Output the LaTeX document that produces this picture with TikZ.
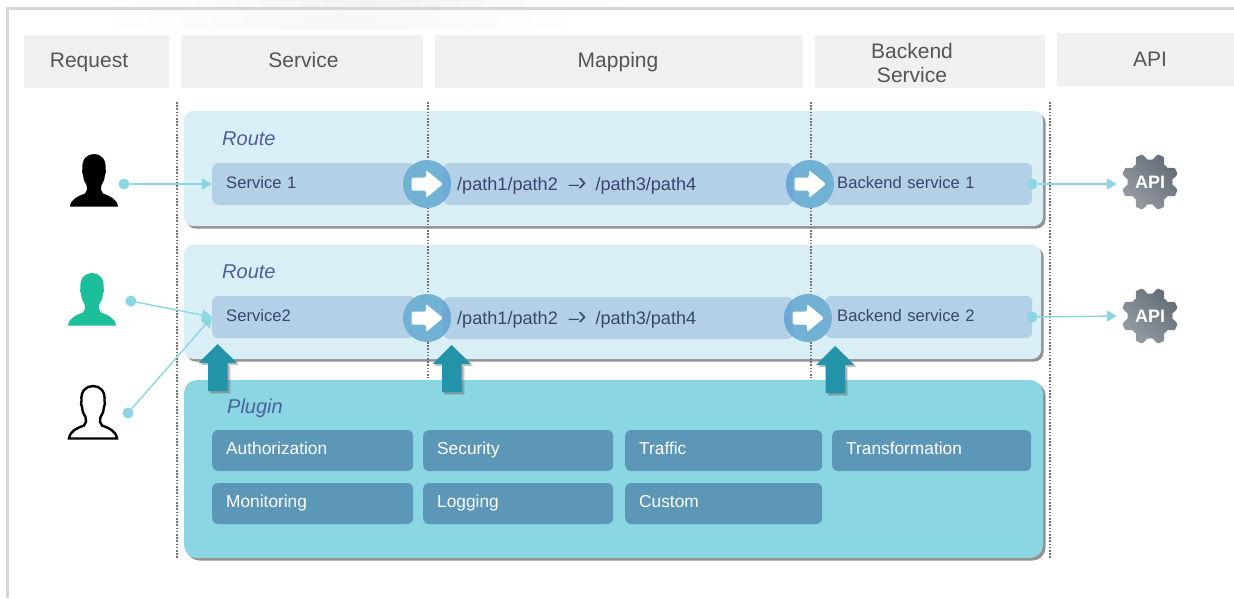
\documentclass[tikz,border=0pt]{standalone}
\usepackage{fontspec}
\setmainfont{Liberation Sans}
\usetikzlibrary{arrows.meta,shadows}
\definecolor{hdrfill}{HTML}{F0F0F0}
\definecolor{hdrtext}{HTML}{555555}
\definecolor{routefill}{HTML}{D9EFF5}
\definecolor{barfill}{HTML}{B4D0E7}
\definecolor{plugfill}{HTML}{8AD6E3}
\definecolor{plugbox}{HTML}{5C97B8}
\definecolor{circfill}{HTML}{70B1D4}
\definecolor{overlap}{HTML}{6FA8D6}
\definecolor{uparrow}{HTML}{2293A8}
\definecolor{titletext}{HTML}{4F5F9A}
\definecolor{bartext}{HTML}{3A466B}
\definecolor{conn}{HTML}{8AD6E3}
\definecolor{persongreen}{HTML}{1DBF9B}
\definecolor{gearlight}{HTML}{949BA3}
\definecolor{geardark}{HTML}{646E78}
\newcommand{\pathmap}{/path1/path2\hspace{11pt}–\hspace{-1pt}{\fontsize{26}{20}\selectfont ›}\hspace{9pt}/path3/path4}
\tikzset{
  x=1pt,y=-1pt,
  softshadow/.style={drop shadow={shadow xshift=2.5pt,shadow yshift=-2.5pt,fill=black!65,opacity=.65}},
  hdr/.style={fill=hdrfill,minimum height=53pt,inner sep=0pt},
  hdrlabel/.style={text=hdrtext,font=\fontsize{21}{24}\selectfont,align=center,inner sep=0pt},
  hdrone/.style={hdrlabel,text height=15pt,text depth=5pt},
  panel/.style={rounded corners=9pt,minimum width=#1,inner sep=0pt,softshadow},
  paneltitle/.style={text=titletext,font=\fontsize{20}{22}\selectfont\itshape,anchor=west,inner sep=0pt},
  bar/.style={fill=barfill,rounded corners=6pt,minimum height=42pt,anchor=west,inner ysep=0pt,inner xsep=14pt,
     text width=#1,align=left,text=bartext,font=\fontsize{16.6}{20}\selectfont,text height=12pt,text depth=4pt},
  mapbar/.style={bar=#1,font=\fontsize{18.1}{20}\selectfont,text depth=0pt},
  plug/.style={fill=plugbox,rounded corners=6pt,minimum height=41pt,anchor=west,inner ysep=0pt,inner xsep=14pt,
     text width=#1,align=left,text=white,font=\fontsize{17.3}{20}\selectfont,text height=12pt,text depth=4pt},
  hub/.style={circle,fill=circfill,minimum size=48pt,inner sep=0pt},
  sep/.style={draw=black!55,line width=1.4pt,dash pattern=on 1.6pt off 1.6pt},
  dot/.style={circle,fill=conn,minimum size=11pt,inner sep=0pt},
  link/.style={draw=conn,line width=1.4pt,-{Triangle[length=10pt,width=11pt]}},
  apinode/.style={circle,minimum size=66pt,inner sep=0pt,text=white,font=\fontsize{18}{18}\selectfont\bfseries},
  pics/upar/.style={code={
    \fill[black!55,opacity=.18] (-6.5,22)--(13,22)--(13,50)--(-6.5,50)--cycle;
    \fill[uparrow,drop shadow={shadow xshift=2pt,shadow yshift=-2pt,fill=black!60,opacity=.4}]
      (0,0)--(19.5,19)--(10,19)--(10,47)--(-9.5,47)--(-9.5,19)--(-19,19)--cycle;}},
  pics/hubarrow/.style={code={
    \fill[white,rounded corners=1.5pt] (-15.5,-6.5)--(-1,-6.5)--(-1,-14)--(16,0)--(-1,14)--(-1,6.5)--(-15.5,6.5)--cycle;}},
  pics/person/.style={code={
    \path[#1] (-24,52.5) .. controls (-23,45) and (-16,42) .. (-9,39.5)
      .. controls (-6.5,37.5) and (-6.5,34) .. (-7.5,31)
      .. controls (-10,27) and (-11,24) .. (-11,21)
      .. controls (-12.5,19) and (-12,16) .. (-11.5,15)
      .. controls (-12.5,5) and (-7,0) .. (0,0)
      .. controls (7,0) and (12.5,5) .. (11.5,15)
      .. controls (12,16) and (12.5,19) .. (11,21)
      .. controls (11,24) and (10,27) .. (7.5,31)
      .. controls (6.5,34) and (6.5,37.5) .. (9,39.5)
      .. controls (16,42) and (23,45) .. (24,52.5) -- cycle;}},
  pics/gear/.style={code={
    \shade[left color=gearlight,right color=geardark,shading angle=135]
      plot[domain=0:360,samples=240,smooth] ({(25.5+3*max(-1,min(1,-1.6*cos(8*\x))))*cos(\x)},{(25.5+3*max(-1,min(1,-1.6*cos(8*\x))))*sin(\x)}) -- cycle;}}
}
\begin{document}
\begin{tikzpicture}
\useasboundingbox (0,0) rectangle (1234,598);
\fill[white] (0,0) rectangle (1234,598);
% frame
\shade[left color=white,right color=white,middle color=black!5] (100,0) rectangle (640,7);
\shade[left color=white,right color=white,middle color=black!3] (100,10) rectangle (580,29);
\draw[black!16,line width=3pt] (7,598) -- (7,8) -- (1234,8);
% headers
\node[hdr,minimum width=145pt] (hreq) at (96.5,61.5) {};
\node[hdr,minimum width=242pt] (hsvc) at (302,61.5) {};
\node[hdr,minimum width=368pt] (hmap) at (619,61.5) {};
\node[hdr,minimum width=230pt] (hbak) at (930,61.5) {};
\node[hdr,minimum width=177pt] (hapi) at (1145.5,59.5) {};
\node[hdrone] (treq) at (89,62) {Request};
\node[hdrone] (tsvc) at (303.5,62) {Service};
\node[hdrone] (tmap) at (618,62) {Mapping};
\node[hdrlabel] (tbak) at (912,63) {Backend\\Service};
\node[hdrone] (tapi) at (1150,61) {API};
% panels
\node[panel=859pt,minimum height=115pt,fill=routefill] (route1) at (613.5,168.5) {};
\node[panel=857pt,minimum height=114pt,fill=routefill] (route2) at (612.5,302) {};
% separators
\coordinate (s1a) at (177,102); \coordinate (s1b) at (177,558);
\coordinate (s2a) at (428,102); \coordinate (s2b) at (428,378);
\coordinate (s3a) at (811,102); \coordinate (s3b) at (811,378);
\coordinate (s4a) at (1050,102); \coordinate (s4b) at (1050,558);
\draw[sep] (s1a) -- (s1b);
\draw[sep] (s2a) -- (s2b);
\draw[sep] (s3a) -- (s3b);
\draw[sep] (s4a) -- (s4b);
\node[panel=859pt,minimum height=178pt,fill=plugfill,rounded corners=13pt] (plugin) at (613.5,469) {};
\node[paneltitle] (lr1) at (222,139) {Route};
\node[paneltitle] (lr2) at (222,272) {Route};
\node[paneltitle] (lpl) at (227,408) {Plugin};
% first row bars
\node[bar=175pt] (svc1) at (212,184) {Service 1};
\node[mapbar=322pt] (map1) at (443,184) {\pathmap};
\node[bar=179pt,inner xsep=12pt,text width=183pt] (bak1) at (825,184) {Backend service 1};
% second row bars
\node[bar=175pt] (svc2) at (212,317) {Service2};
\node[mapbar=322pt] (map2) at (443,318) {\pathmap};
\node[bar=179pt,inner xsep=12pt,text width=183pt] (bak2) at (825,317) {Backend service 2};
% hubs
\node[hub] (h1) at (427,184) {};
\node[hub] (h2) at (810,184) {};
\node[hub] (h3) at (427,318) {};
\node[hub] (h4) at (808,318) {};
\begin{scope}
\clip (h1) circle (24);
\fill[overlap] (443,163) rectangle (455,205);
\end{scope}
\begin{scope}
\clip (h3) circle (24);
\fill[overlap] (443,297) rectangle (455,339);
\end{scope}
\begin{scope}
\clip (h2) circle (24);
\fill[overlap] (780,163) rectangle (793,205);
\end{scope}
\begin{scope}
\clip (h4) circle (24);
\fill[overlap] (780,297) rectangle (793,339);
\end{scope}
\pic at (h1) {hubarrow};
\pic at (h2) {hubarrow};
\pic at (h3) {hubarrow};
\pic at (h4) {hubarrow};
% plugin boxes
\node[plug=173pt] (p1) at (212,450.5) {Authorization};
\node[plug=162pt] (p2) at (423,450.5) {Security};
\node[plug=169pt] (p3) at (625,450.5) {Traffic};
\node[plug=171pt] (p4) at (832,450.5) {Transformation};
\node[plug=173pt] (p5) at (212,503.5) {Monitoring};
\node[plug=162pt] (p6) at (423,503.5) {Logging};
\node[plug=169pt] (p7) at (625,503.5) {Custom};
% up arrows
\pic at (217.5,344) {upar};
\pic at (451.5,345) {upar};
\pic at (835,346) {upar};
% persons
\pic at (94,154) {person={fill=black}};
\pic at (92,273) {person={fill=persongreen}};
\pic at (93,386) {person={draw=black,fill=white,line width=2.4pt}};
% gears
\pic at (1150,182) {gear};
\pic at (1150,316) {gear};
\node[apinode] (api1) at (1150,182) {API};
\node[apinode] (api2) at (1150,316) {API};
% dots and links
\node[dot] (d1) at (124,184) {};
\node[dot] (d2) at (131,301) {};
\node[dot] (d3) at (128,413) {};
\node[dot] (d4) at (1032,184) {};
\node[dot] (d5) at (1032,317) {};
\draw[link] (d1) -- (svc1.west);
\draw[link] (d2) -- (svc2.west);
\draw[link] (d3) -- (svc2.west);
\draw[link] (d4) -- (d4 -| api1.west);
\draw[link] (d5) -- (api2.west);
\end{tikzpicture}
\end{document}
